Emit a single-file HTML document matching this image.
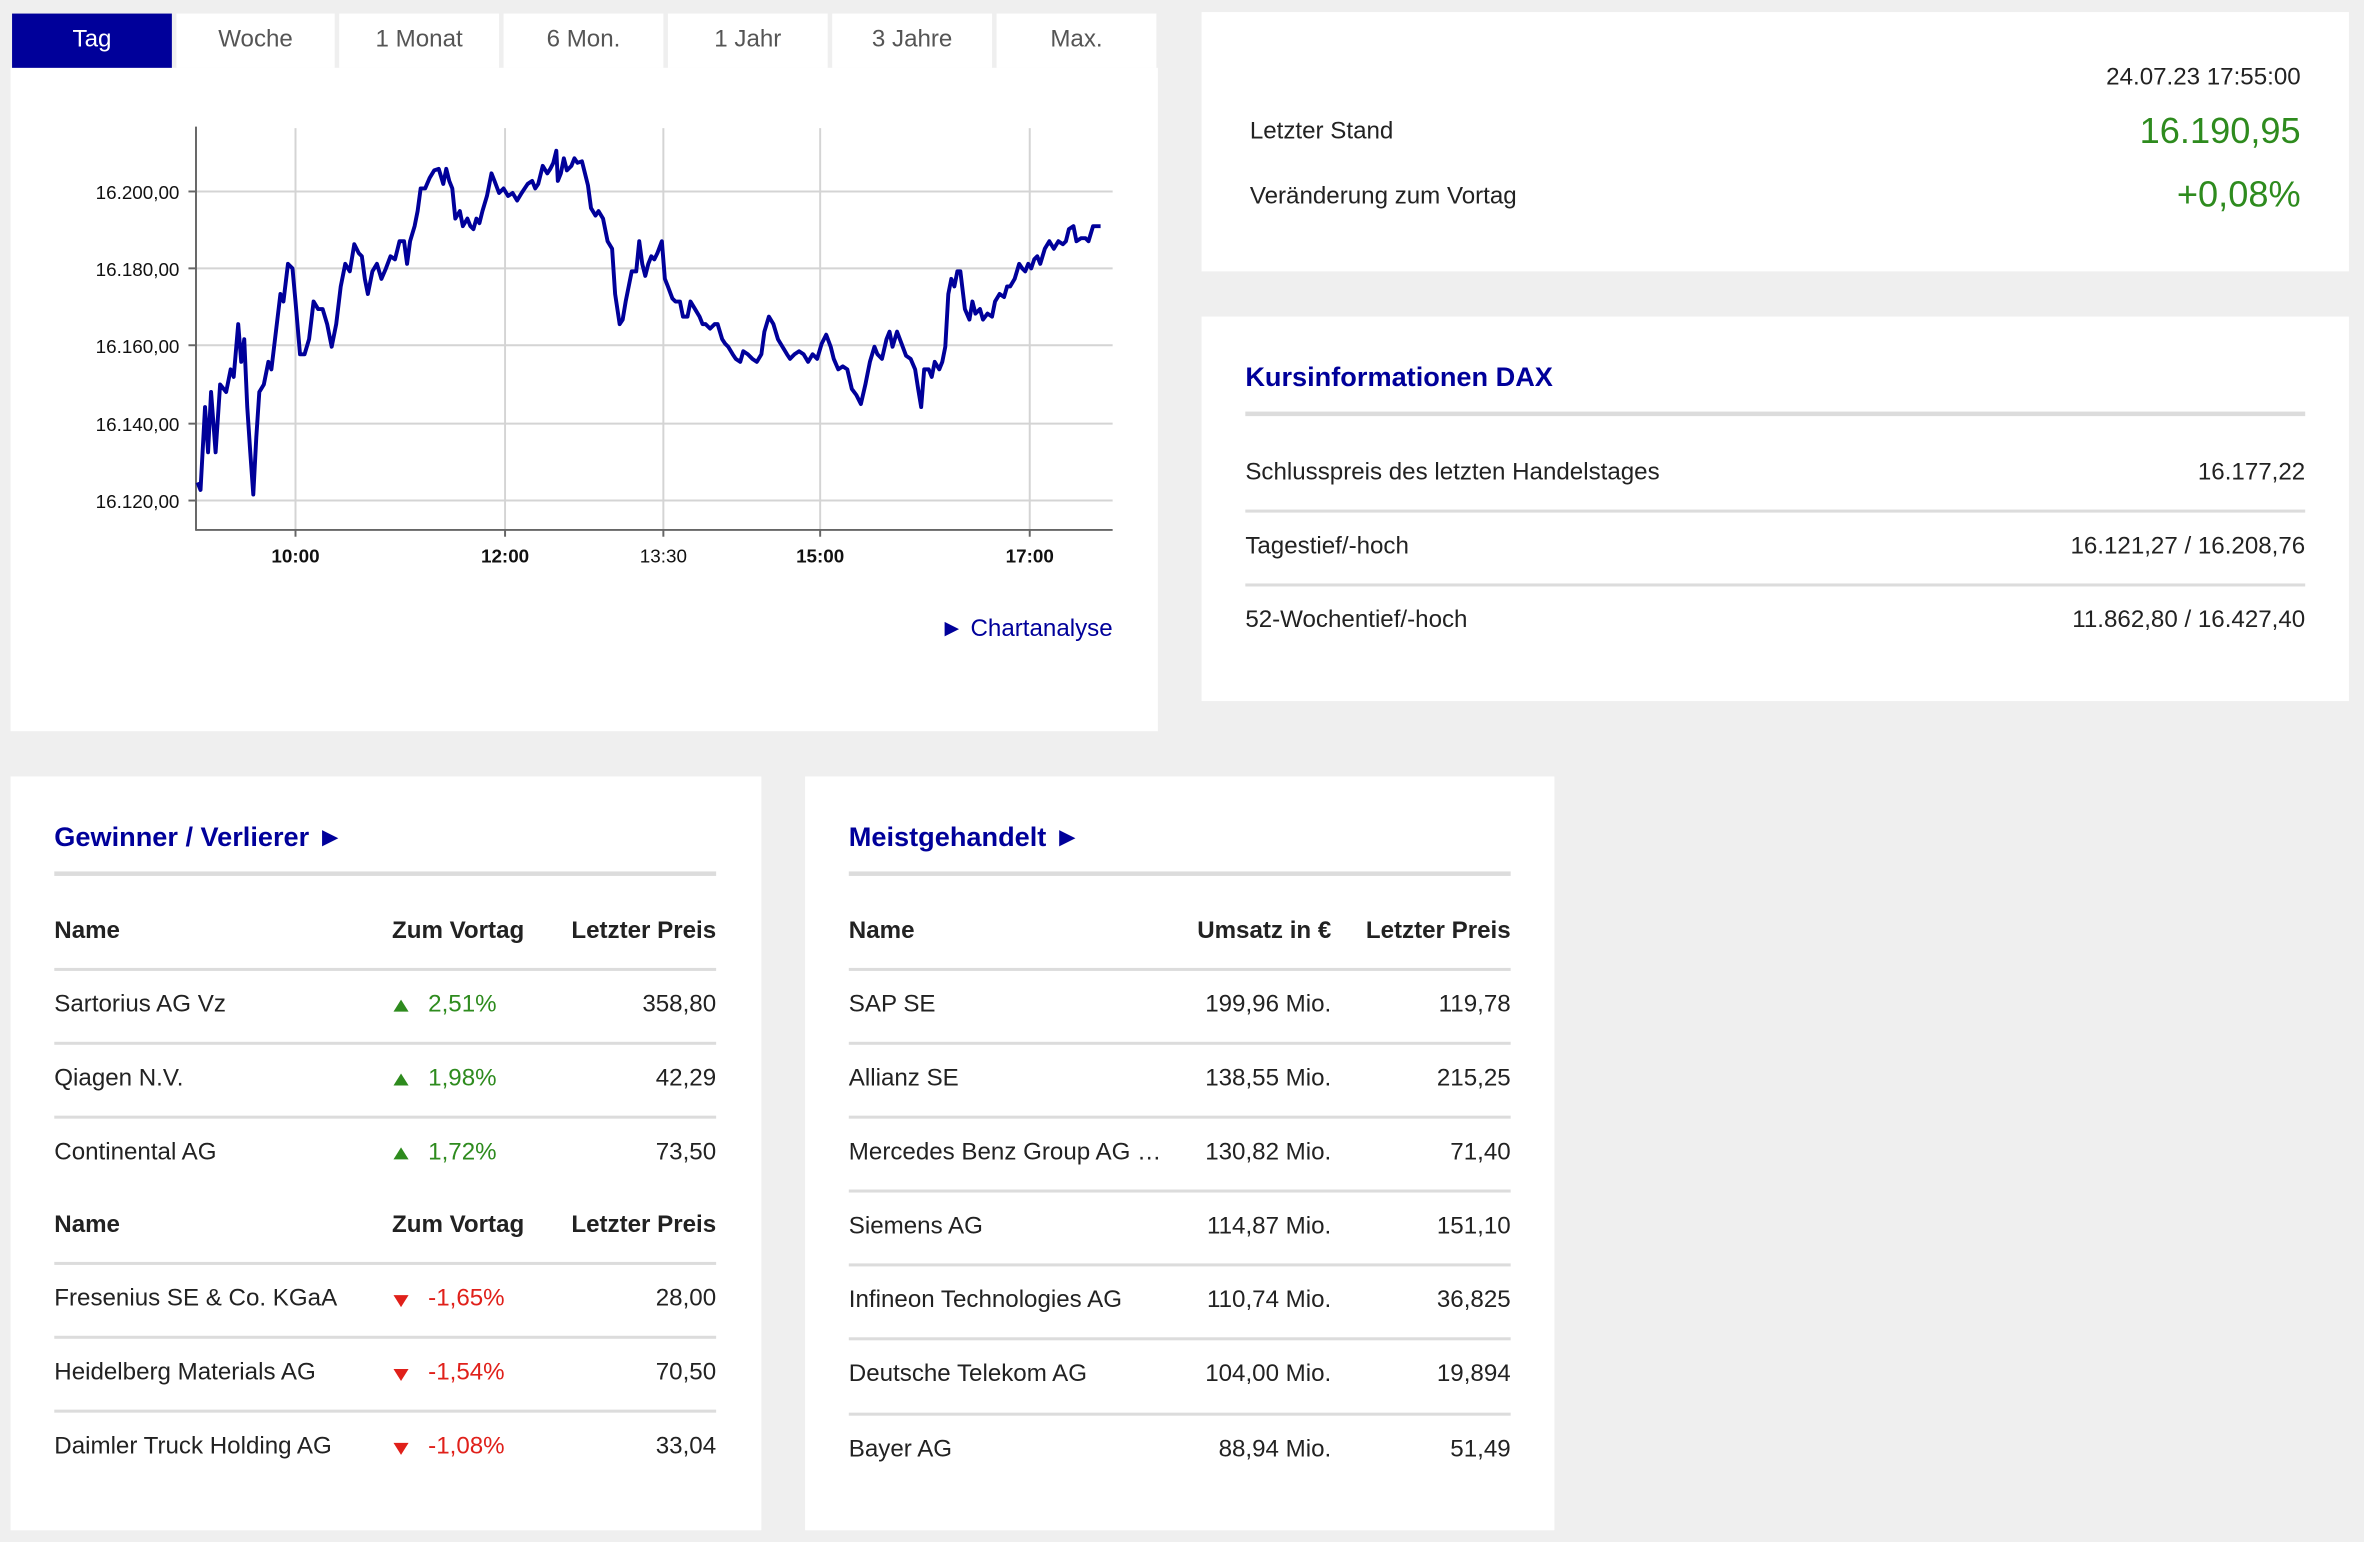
<!DOCTYPE html>
<html><head><meta charset="utf-8"><style>
html,body{margin:0;padding:0;background:#efefef;width:2364px;height:1542px;overflow:hidden}
#s{position:absolute;left:0;top:0;width:1568px;height:1023px;transform:scale(1.50765);transform-origin:0 0;font-family:"Liberation Sans",Arial,sans-serif;color:#222;font-size:16px}
.a{position:absolute;white-space:nowrap;line-height:20px;height:20px}
.p{position:absolute;background:#fff}
.r{text-align:right}
.h{color:#00009a;font-weight:bold;font-size:18px}
.b{font-weight:bold}
.ln{position:absolute;height:1.5px;background:#dcdcdc}
.hl{position:absolute;height:3px;background:#dcdcdc}
.tab{position:absolute;top:9px;height:36px;line-height:36px;text-align:center;background:#fff;color:#555;font-size:16px}
.g{color:#2e8b1e}.rd{color:#e0201a}
.up{position:absolute;width:0;height:0;border-left:5px solid transparent;border-right:5px solid transparent;border-bottom:8px solid #2e8b1e}
.dn{position:absolute;width:0;height:0;border-left:5px solid transparent;border-right:5px solid transparent;border-top:8px solid #e0201a}
</style></head><body><div id="s">
<div class="p" style="left:7px;top:45px;width:761px;height:440px"></div>
<div class="tab" style="left:8px;width:106px;background:#00009a;color:#fff">Tag</div>
<div class="tab" style="left:117px;width:105px">Woche</div>
<div class="tab" style="left:225px;width:106px">1 Monat</div>
<div class="tab" style="left:334px;width:106px">6 Mon.</div>
<div class="tab" style="left:443px;width:106px">1 Jahr</div>
<div class="tab" style="left:552px;width:106px">3 Jahre</div>
<div class="tab" style="left:661px;width:106px">Max.</div>
<svg style="position:absolute;left:0;top:0" width="768" height="440">
<g stroke="#d4d4d4" stroke-width="1.3">
<line x1="130" y1="127" x2="738" y2="127"/><line x1="130" y1="178" x2="738" y2="178"/><line x1="130" y1="229" x2="738" y2="229"/><line x1="130" y1="281" x2="738" y2="281"/><line x1="130" y1="332" x2="738" y2="332"/>
<line x1="196" y1="85" x2="196" y2="351"/><line x1="335" y1="85" x2="335" y2="351"/><line x1="440" y1="85" x2="440" y2="351"/><line x1="544" y1="85" x2="544" y2="351"/><line x1="683" y1="85" x2="683" y2="351"/>
</g>
<g stroke="#666" stroke-width="1.3">
<line x1="130" y1="84" x2="130" y2="352"/><line x1="130" y1="351.5" x2="738" y2="351.5"/>
<line x1="125" y1="127" x2="130" y2="127"/><line x1="125" y1="178" x2="130" y2="178"/><line x1="125" y1="229" x2="130" y2="229"/><line x1="125" y1="281" x2="130" y2="281"/><line x1="125" y1="332" x2="130" y2="332"/>
<line x1="196" y1="351" x2="196" y2="356"/><line x1="335" y1="351" x2="335" y2="356"/><line x1="440" y1="351" x2="440" y2="356"/><line x1="544" y1="351" x2="544" y2="356"/><line x1="683" y1="351" x2="683" y2="356"/>
</g>
<g font-family="Liberation Sans,Arial,sans-serif" font-size="12.5" fill="#111" text-anchor="end">
<text x="119" y="132">16.200,00</text><text x="119" y="183">16.180,00</text><text x="119" y="234">16.160,00</text><text x="119" y="286">16.140,00</text><text x="119" y="337">16.120,00</text>
</g>
<g font-family="Liberation Sans,Arial,sans-serif" font-size="12.5" fill="#111" text-anchor="middle">
<text x="196" y="373" font-weight="bold">10:00</text><text x="335" y="373" font-weight="bold">12:00</text><text x="440" y="373">13:30</text><text x="544" y="373" font-weight="bold">15:00</text><text x="683" y="373" font-weight="bold">17:00</text>
</g>
<polyline fill="none" stroke="#00009a" stroke-width="2.6" stroke-linejoin="round" points="131,320 133,325 136,270 138,300 140,260 143,300 146,255 150,260 153,245 155,250 158,215 160,240 162,225 164,270 166,300 168,328 170,290 172,260 175,255 178,240 180,245 183,220 186,195 188,200 191,175 194,178 196,200 199,235 202,235 205,225 208,200 211,205 214,205 217,215 220,230 223,215 226,190 229,175 232,180 235,162 238,168 240,170 242,185 244,195 247,180 250,175 253,185 256,178 259,170 262,172 265,160 268,160 270,175 272,160 275,150 277,140 279,125 282,125 285,118 288,113 291,112 294,122 296,112 298,120 300,125 302,145 305,140 307,150 310,145 312,150 314,152 316,145 318,148 320,140 323,130 326,115 328,120 331,128 334,125 337,130 340,128 343,133 346,128 348,125 350,122 353,120 355,125 357,122 360,110 363,115 365,112 367,108 369,100 370,120 372,115 374,105 376,113 379,110 381,105 383,108 386,107 388,115 390,123 392,138 395,143 397,140 400,145 403,160 406,165 408,195 411,215 413,212 415,200 417,190 419,180 422,180 424,160 426,175 428,183 430,175 432,170 434,172 436,168 439,160 441,185 443,190 446,198 448,200 451,200 453,210 456,210 458,200 461,205 464,210 466,215 468,215 471,218 474,215 476,215 479,225 481,228 483,230 486,235 488,238 491,240 493,233 496,235 499,238 502,240 505,235 507,220 510,210 513,215 516,225 519,230 522,235 524,238 527,235 530,233 533,235 536,240 539,235 542,238 545,228 548,222 551,230 553,238 556,245 559,243 562,245 565,258 568,262 571,268 574,255 577,240 580,230 582,235 585,238 588,225 590,220 592,230 595,220 598,228 601,236 604,238 607,245 609,258 611,270 613,245 616,245 618,250 620,240 623,245 625,240 627,230 629,195 631,185 633,190 635,180 637,180 640,205 643,212 645,200 647,208 650,205 652,212 655,208 658,210 660,200 663,195 666,197 668,190 670,190 673,185 676,175 678,178 680,180 682,175 684,178 686,172 688,170 690,175 693,165 696,160 699,165 702,160 705,162 707,160 709,152 712,150 714,160 717,158 720,158 722,160 725,150 730,150"/>
</svg>
<div class="a r" style="left:560px;top:408px;width:178px;color:#00009a">► Chartanalyse</div>

<div class="p" style="left:797px;top:8px;width:761px;height:172px"></div>
<div class="a r" style="left:1200px;top:42px;width:326px">24.07.23 17:55:00</div>
<div class="a" style="left:829px;top:78px">Letzter Stand</div>
<div class="a r g" style="left:1200px;top:75px;width:326px;font-size:24px;height:26px;line-height:26px">16.190,95</div>
<div class="a" style="left:829px;top:121px">Veränderung zum Vortag</div>
<div class="a r g" style="left:1200px;top:117px;width:326px;font-size:24px;height:26px;line-height:26px">+0,08%</div>

<div class="p" style="left:797px;top:210px;width:761px;height:255px"></div>
<div class="a h" style="left:826px;top:240px">Kursinformationen DAX</div>
<div class="hl" style="left:826px;top:273px;width:703px"></div>
<div class="a" style="left:826px;top:304px">Schlusspreis des letzten Handelstages</div><div class="a r" style="left:1200px;top:304px;width:329px">16.177,22</div>
<div class="ln" style="left:826px;top:338px;width:703px"></div>
<div class="a" style="left:826px;top:353px">Tagestief/-hoch</div><div class="a r" style="left:1200px;top:353px;width:329px">16.121,27 / 16.208,76</div>
<div class="ln" style="left:826px;top:387px;width:703px"></div>
<div class="a" style="left:826px;top:402px">52-Wochentief/-hoch</div><div class="a r" style="left:1200px;top:402px;width:329px">11.862,80 / 16.427,40</div>

<div class="p" style="left:7px;top:515px;width:498px;height:500px"></div>
<div class="a h" style="left:36px;top:545px">Gewinner / Verlierer ►</div>
<div class="hl" style="left:36px;top:578px;width:439px"></div>
<div class="a b" style="left:36px;top:608px">Name</div><div class="a b" style="left:260px;top:608px">Zum Vortag</div><div class="a b r" style="left:370px;top:608px;width:105px">Letzter Preis</div>
<div class="ln" style="left:36px;top:642px;width:439px"></div>
<div class="a" style="left:36px;top:657px">Sartorius AG Vz</div><div class="up" style="left:261px;top:663px"></div><div class="a g" style="left:284px;top:657px">2,51%</div><div class="a r" style="left:370px;top:657px;width:105px">358,80</div>
<div class="ln" style="left:36px;top:691px;width:439px"></div>
<div class="a" style="left:36px;top:706px">Qiagen N.V.</div><div class="up" style="left:261px;top:712px"></div><div class="a g" style="left:284px;top:706px">1,98%</div><div class="a r" style="left:370px;top:706px;width:105px">42,29</div>
<div class="ln" style="left:36px;top:740px;width:439px"></div>
<div class="a" style="left:36px;top:755px">Continental AG</div><div class="up" style="left:261px;top:761px"></div><div class="a g" style="left:284px;top:755px">1,72%</div><div class="a r" style="left:370px;top:755px;width:105px">73,50</div>
<div class="a b" style="left:36px;top:803px">Name</div><div class="a b" style="left:260px;top:803px">Zum Vortag</div><div class="a b r" style="left:370px;top:803px;width:105px">Letzter Preis</div>
<div class="ln" style="left:36px;top:837px;width:439px"></div>
<div class="a" style="left:36px;top:852px">Fresenius SE &amp; Co. KGaA</div><div class="dn" style="left:261px;top:859px"></div><div class="a rd" style="left:284px;top:852px">-1,65%</div><div class="a r" style="left:370px;top:852px;width:105px">28,00</div>
<div class="ln" style="left:36px;top:886px;width:439px"></div>
<div class="a" style="left:36px;top:901px">Heidelberg Materials AG</div><div class="dn" style="left:261px;top:908px"></div><div class="a rd" style="left:284px;top:901px">-1,54%</div><div class="a r" style="left:370px;top:901px;width:105px">70,50</div>
<div class="ln" style="left:36px;top:935px;width:439px"></div>
<div class="a" style="left:36px;top:950px">Daimler Truck Holding AG</div><div class="dn" style="left:261px;top:957px"></div><div class="a rd" style="left:284px;top:950px">-1,08%</div><div class="a r" style="left:370px;top:950px;width:105px">33,04</div>

<div class="p" style="left:534px;top:515px;width:497px;height:500px"></div>
<div class="a h" style="left:563px;top:545px">Meistgehandelt ►</div>
<div class="hl" style="left:563px;top:578px;width:439px"></div>
<div class="a b" style="left:563px;top:608px">Name</div><div class="a b r" style="left:763px;top:608px;width:120px">Umsatz in €</div><div class="a b r" style="left:897px;top:608px;width:105px">Letzter Preis</div>
<div class="ln" style="left:563px;top:642px;width:439px"></div>
<div class="a" style="left:563px;top:657px">SAP SE</div><div class="a r" style="left:763px;top:657px;width:120px">199,96 Mio.</div><div class="a r" style="left:897px;top:657px;width:105px">119,78</div>
<div class="ln" style="left:563px;top:691px;width:439px"></div>
<div class="a" style="left:563px;top:706px">Allianz SE</div><div class="a r" style="left:763px;top:706px;width:120px">138,55 Mio.</div><div class="a r" style="left:897px;top:706px;width:105px">215,25</div>
<div class="ln" style="left:563px;top:740px;width:439px"></div>
<div class="a" style="left:563px;top:755px">Mercedes Benz Group AG …</div><div class="a r" style="left:763px;top:755px;width:120px">130,82 Mio.</div><div class="a r" style="left:897px;top:755px;width:105px">71,40</div>
<div class="ln" style="left:563px;top:789px;width:439px"></div>
<div class="a" style="left:563px;top:804px">Siemens AG</div><div class="a r" style="left:763px;top:804px;width:120px">114,87 Mio.</div><div class="a r" style="left:897px;top:804px;width:105px">151,10</div>
<div class="ln" style="left:563px;top:838px;width:439px"></div>
<div class="a" style="left:563px;top:853px">Infineon Technologies AG</div><div class="a r" style="left:763px;top:853px;width:120px">110,74 Mio.</div><div class="a r" style="left:897px;top:853px;width:105px">36,825</div>
<div class="ln" style="left:563px;top:887px;width:439px"></div>
<div class="a" style="left:563px;top:902px">Deutsche Telekom AG</div><div class="a r" style="left:763px;top:902px;width:120px">104,00 Mio.</div><div class="a r" style="left:897px;top:902px;width:105px">19,894</div>
<div class="ln" style="left:563px;top:937px;width:439px"></div>
<div class="a" style="left:563px;top:952px">Bayer AG</div><div class="a r" style="left:763px;top:952px;width:120px">88,94 Mio.</div><div class="a r" style="left:897px;top:952px;width:105px">51,49</div>
</div></body></html>
